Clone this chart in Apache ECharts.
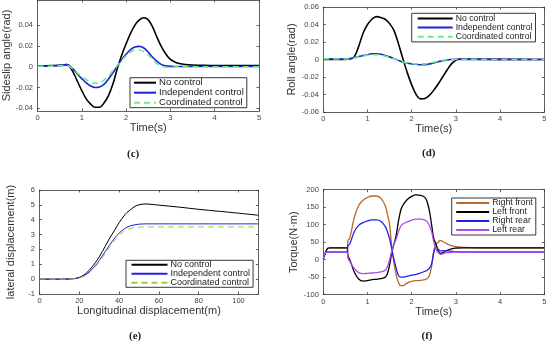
<!DOCTYPE html>
<html><head><meta charset="utf-8">
<script src="https://cdn.jsdelivr.net/npm/echarts@6/dist/echarts.min.js"></script>
<style>html,body{margin:0;padding:0;background:#fff}#chart{width:550px;height:346px}</style>
</head><body><div id="chart"></div>
<script>
// ---------- (c) Sideslip angle ----------
const cTime = [0,0.3,0.6,0.65,0.7,0.8,0.9,1.0,1.1,1.2,1.3,1.4,1.5,1.6,1.7,1.8,1.9,2.0,2.1,2.2,2.3,2.4,2.5,2.6,2.7,2.8,2.9,3.0,3.1,3.2,3.4,3.7,4.0,5.0];
const cNoControl = [0.0005,0.001,0.0015,0.002,0.0015,-0.005,-0.014,-0.023,-0.031,-0.036,-0.039,-0.039,-0.035,-0.028,-0.017,-0.002,0.011,0.022,0.032,0.040,0.045,0.047,0.045,0.038,0.028,0.019,0.012,0.007,0.0045,0.003,0.0018,0.0013,0.001,0.001];
const cIndependent = [0.0005,0.0008,0.0015,0.002,0.0015,-0.002,-0.007,-0.0115,-0.0155,-0.0185,-0.020,-0.0195,-0.017,-0.012,-0.006,0.0005,0.007,0.012,0.0165,0.019,0.0195,0.018,0.014,0.009,0.005,0.002,0.0008,0.0003,0.0002,0.0002,0.0002,0.0002,0.0002,0.0002];
const cCoordinated = [0.0003,0.0005,0.001,0.0012,0.0008,-0.002,-0.006,-0.0095,-0.0125,-0.015,-0.016,-0.0155,-0.013,-0.009,-0.004,0.001,0.006,0.0105,0.014,0.016,0.016,0.0145,0.011,0.007,0.003,0.0005,-0.0005,-0.0005,-0.0003,0,0,0,0,0];
const cYTicks = [-0.04,-0.02,0,0.02,0.04];

// ---------- (d) Roll angle ----------
const dTime = [0,0.5,0.6,0.7,0.8,0.9,1.0,1.1,1.2,1.3,1.4,1.5,1.6,1.7,1.8,1.9,2.0,2.1,2.2,2.3,2.4,2.5,2.6,2.7,2.8,2.9,3.0,3.1,3.3,5.0];
const dNoControl = [0,0,0.0005,0.003,0.015,0.030,0.040,0.046,0.049,0.048,0.046,0.041,0.033,0.018,0.001,-0.015,-0.029,-0.040,-0.045,-0.0445,-0.041,-0.035,-0.028,-0.020,-0.012,-0.005,-0.001,0.0005,0.0003,0];
const dIndependent = [0.0008,0.0005,0.001,0.002,0.0033,0.0045,0.0055,0.0065,0.0065,0.006,0.0045,0.003,0.001,-0.001,-0.003,-0.0042,-0.005,-0.0055,-0.006,-0.006,-0.005,-0.004,-0.0025,-0.0015,-0.0005,0,0.0003,0.0002,0.0002,0];
const dCoordinated = [0.0008,0.0005,0.0009,0.0018,0.003,0.004,0.005,0.0055,0.0055,0.005,0.0038,0.0025,0.0008,-0.001,-0.0028,-0.004,-0.0045,-0.005,-0.005,-0.005,-0.0042,-0.0032,-0.002,-0.001,-0.0003,0,0.0002,0.0002,0.0001,0];

// ---------- (e) Lateral displacement ----------
const eLongitudinal = [0,10,15,18,20,22,25,28,30,33,35,38,40,43,45,48,50,53,55,60,70,80,90,100,110];
const eNoControl = [0,0,0.01,0.05,0.12,0.25,0.6,1.1,1.5,2.2,2.7,3.35,3.8,4.35,4.6,4.9,5.0,5.06,5.05,4.98,4.85,4.7,4.57,4.44,4.3];
const eIndependent = [0,0,0.01,0.04,0.1,0.2,0.48,0.9,1.25,1.85,2.25,2.8,3.1,3.42,3.56,3.66,3.70,3.72,3.72,3.72,3.72,3.72,3.72,3.72,3.72];
const eCoordinated = [0,0,0.005,0.03,0.08,0.17,0.42,0.82,1.15,1.72,2.1,2.65,2.95,3.27,3.38,3.47,3.5,3.52,3.52,3.52,3.52,3.52,3.52,3.52,3.52];

// ---------- (f) Torque ----------
const fTime = [0,0.05,0.1,0.15,0.5,0.54,0.56,0.6,0.7,0.8,0.9,1.0,1.1,1.2,1.3,1.4,1.45,1.5,1.55,1.6,1.65,1.7,1.75,1.8,1.9,2.0,2.1,2.2,2.3,2.35,2.4,2.45,2.5,2.55,2.6,2.65,2.7,2.8,2.9,3.0,3.2,3.5,5.0];
const fRightFront = [2,20,33,34,34,35,55,62,120,155,170,178,182,182,176,155,130,100,35,-10,-45,-65,-74,-74,-66,-62,-60,-59,-57,-54,-45,-20,25,45,50,55,52,45,40,37,35,34,34];
const fLeftFront = [2,20,33,34,34,33,10,0,-35,-55,-61,-60,-57,-56,-54,-50,-40,-15,20,45,70,110,140,155,172,181,185,184,178,165,140,100,60,45,25,18,20,27,31,33,34,34,34];
const fRightRear = [2,20,22,22,22,23,40,45,80,98,106,111,114,114,110,95,80,60,30,0,-25,-45,-50,-50,-47,-44,-42,-38,-33,-30,-25,-12,20,35,30,25,26,25,24,23,22,22,22];
const fLeftRear = [2,20,22,22,22,21,5,-5,-25,-37,-40,-39,-38,-37,-35,-30,-20,0,25,45,60,80,95,102,108,113,116,116,113,108,98,80,50,30,20,15,17,20,21,22,22,22,22];

const FONT = 'Liberation Sans';
const AX = '#3a3a3a';
const pairs = (xs, ys) => xs.map((x, i) => [x, ys[i]]);

const chart = echarts.init(document.getElementById('chart'), null, {renderer: 'canvas'});

const grids = [
  {left: 36, right: 291, top: -1, bottom: 235},
  {left: 323.3, right: 5.7, top: 7, bottom: 234},
  {left: 39.5, right: 291.6, top: 190, bottom: 52},
  {left: 323.3, right: 5.7, top: 189.7, bottom: 51.3}
];
const xSpec = [
  {min: 0, max: 5, interval: 1, name: 'Time(s)'},
  {min: 0, max: 5, interval: 1, name: 'Time(s)'},
  {min: 0, max: 110, interval: 20, name: 'Longitudinal displacement(m)'},
  {min: 0, max: 5, interval: 1, name: 'Time(s)'}
];
const ySpec = [
  {min: -0.0426, max: 0.0641, custom: cYTicks, name: 'Sideslip angle(rad)'},
  {min: -0.06, max: 0.06, interval: 0.02, name: 'Roll angle(rad)'},
  {min: -1, max: 6, interval: 1, name: 'lateral displacement(m)'},
  {min: -100, max: 200, interval: 50, name: 'Torque(N\u00b7m)'}
];

const multipleOf = (step) => (v) => {
  const k = v / step;
  if (Math.abs(k - Math.round(k)) > 1e-6) return '';
  return String(+Number(v).toFixed(4));
};

const xAxes = [], yAxes = [];
grids.forEach((g, i) => {
  const xs = xSpec[i], ys = ySpec[i];
  const common = {
    gridIndex: i, type: 'value',
    axisLine: {show: true, onZero: false, lineStyle: {color: AX, width: 0.8}},
    axisTick: {show: true, inside: true, length: 2.5, lineStyle: {color: AX, width: 0.8}},
    splitLine: {show: false}
  };
  xAxes.push(Object.assign({}, common, {
    position: 'bottom', min: xs.min, max: xs.max, interval: xs.interval,
    name: xs.name, nameLocation: 'middle', nameGap: 10,
    nameTextStyle: {fontFamily: FONT, fontSize: 11, color: '#333', verticalAlign: 'top'},
    axisLabel: {fontFamily: FONT, fontSize: 7.5, color: '#444', margin: 3, formatter: multipleOf(xs.interval)}
  }));
  xAxes.push(Object.assign({}, common, {
    position: 'top', min: xs.min, max: xs.max, interval: xs.interval,
    axisLabel: {show: false}
  }));
  const yLeft = Object.assign({}, common, {
    position: 'left', min: ys.min, max: ys.max,
    name: ys.name, nameLocation: 'middle', nameGap: 23, nameRotate: 90,
    nameTextStyle: {fontFamily: FONT, fontSize: 11, color: '#333'},
    axisLabel: {fontFamily: FONT, fontSize: 7.5, color: '#444', margin: 4.5}
  });
  const yRight = Object.assign({}, common, {
    position: 'right', min: ys.min, max: ys.max, axisLabel: {show: false}
  });
  if (ys.custom) {
    yLeft.axisLabel.customValues = ys.custom;
    yLeft.axisTick = Object.assign({}, common.axisTick, {customValues: ys.custom});
    yRight.axisTick = Object.assign({}, common.axisTick, {customValues: ys.custom});
    yRight.axisLabel = {show: false, customValues: ys.custom};
  } else {
    yLeft.interval = ys.interval;
    yRight.interval = ys.interval;
    yLeft.axisLabel.formatter = multipleOf(ys.interval);
  }
  yAxes.push(yLeft);
  yAxes.push(yRight);
});

function line(name, gi, xs, ys, color, width, dashed) {
  return {
    type: 'line', name: name, xAxisIndex: 2 * gi, yAxisIndex: 2 * gi,
    data: pairs(xs, ys), showSymbol: false, symbol: 'none', smooth: 0.35,
    lineStyle: {color: color, width: width, type: dashed ? [6, 4] : 'solid'},
    itemStyle: {color: color}, animation: false, z: 3
  };
}

const BLUE = '#2222dd', GREEN = '#66ee88', YG = '#a2cc44';
const series = [
  line('No control#c', 0, cTime, cNoControl, '#000', 1.6),
  line('Independent control#c', 0, cTime, cIndependent, BLUE, 1.6),
  line('Coordinated control#c', 0, cTime, cCoordinated, GREEN, 1.6, true),
  line('No control#d', 1, dTime, dNoControl, '#000', 1.6),
  line('Independent control#d', 1, dTime, dIndependent, BLUE, 1.6),
  line('Coordinated control#d', 1, dTime, dCoordinated, GREEN, 1.6, true),
  line('No control#e', 2, eLongitudinal, eNoControl, '#000', 1),
  line('Independent control#e', 2, eLongitudinal, eIndependent, BLUE, 1),
  line('Coordinated control#e', 2, eLongitudinal, eCoordinated, YG, 1, true),
  line('Right front', 3, fTime, fRightFront, '#b8692a', 1.3),
  line('Left front', 3, fTime, fLeftFront, '#000', 1.3),
  line('Right rear', 3, fTime, fRightRear, '#2020e6', 1.3),
  line('Left rear', 3, fTime, fLeftRear, '#a84cf2', 1.3)
];

function legend(names, left, top, itemWidth, fontSize, rowH, pad) {
  return {
    show: true, orient: 'vertical', left: left, top: top,
    data: names, itemWidth: itemWidth, itemHeight: rowH, itemGap: 0,
    padding: pad, borderColor: '#222', borderWidth: 0.9, backgroundColor: '#fff',
    selectedMode: false,
    itemStyle: {color: 'rgba(0,0,0,0)', borderColor: 'rgba(0,0,0,0)', borderWidth: 0, opacity: 0},
    textStyle: {fontFamily: FONT, fontSize: fontSize, color: '#222', lineHeight: rowH, padding: [0,0,0,-2]},
    formatter: (n) => n.split('#')[0]
  };
}

const option = {
  animation: false,
  backgroundColor: '#fff',
  grid: grids.map(g => Object.assign({containLabel: false, show: false}, g)),
  xAxis: xAxes, yAxis: yAxes, series: series,
  legend: [
    legend(['No control#c', 'Independent control#c', 'Coordinated control#c'], 130, 77.7, 22, 9.6, 8.8, [0, 3, 0, 3]),
    legend(['No control#d', 'Independent control#d', 'Coordinated control#d'], 411.7, 13.3, 35, 8.7, 9.2, [0.5, 3, 0.5, 5]),
    legend(['No control#e', 'Independent control#e', 'Coordinated control#e'], 126, 260.3, 36, 9, 8.2, [0, 3, 0, 4.5]),
    legend(['Right front', 'Left front', 'Right rear', 'Left rear'], 451.7, 198, 33, 8.8, 8.2, [0.5, 3, 0.5, 3.5])
  ],
  graphic: [
    {type: 'text', left: 127, top: 149, style: {text: '(c)', font: 'bold 11px "Liberation Serif"', fill: '#222'}},
    {type: 'text', left: 422, top: 148, style: {text: '(d)', font: 'bold 11px "Liberation Serif"', fill: '#222'}},
    {type: 'text', left: 129, top: 330.5, style: {text: '(e)', font: 'bold 11px "Liberation Serif"', fill: '#222'}},
    {type: 'text', left: 421.5, top: 330.5, style: {text: '(f)', font: 'bold 11px "Liberation Serif"', fill: '#222'}}
  ]
};
chart.setOption(option);
</script>
</body></html>
